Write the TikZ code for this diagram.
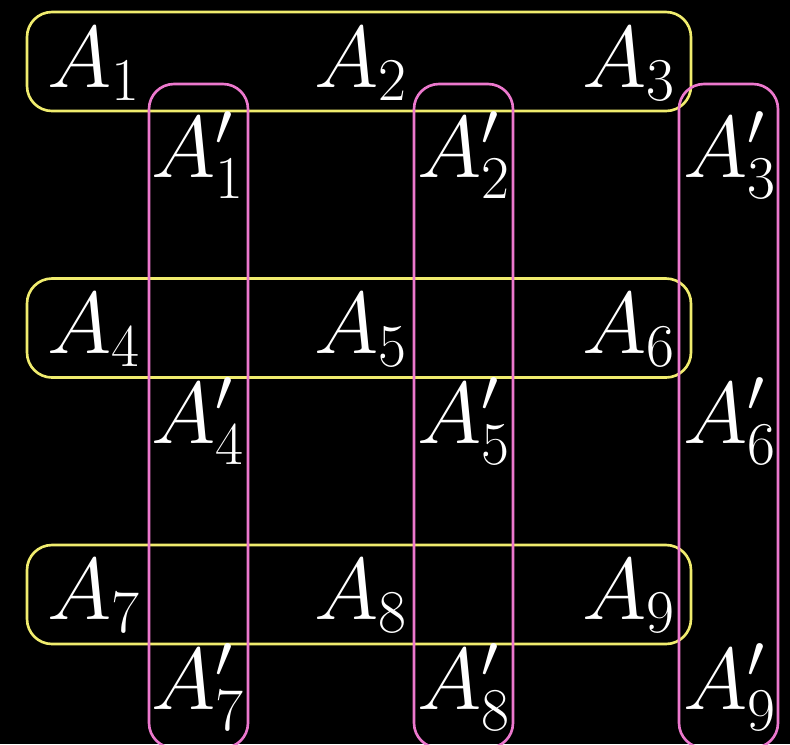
\documentclass[tikz,border=0pt]{standalone}
\usepackage{amsmath}
\usepackage{xcolor}
\definecolor{rowcol}{RGB}{240,236,110}
\definecolor{colcol}{RGB}{236,120,205}

\begin{document}
\begin{tikzpicture}[x=0.01cm,y=-0.01cm,
  every node/.style={text=white,inner sep=0pt,anchor=base,
    font=\fontsize{25.9}{31}\selectfont},
  rowbox/.style={draw=rowcol,line width=0.75pt,rounded corners=0.25cm},
  colbox/.style={draw=colcol,line width=0.75pt,rounded corners=0.25cm}]
% black page
\fill[black] (0,0) rectangle (790,744);
\useasboundingbox (0,0) rectangle (790,744);

% rows of A
\foreach \r in {0,1,2}
  \draw[rowbox] (27,{12+266.5*\r}) rectangle (691,{111+266.5*\r});

% columns of A'
\foreach \c in {0,1,2}
  \draw[colbox] ({149+265*\c},84) rectangle ({248+265*\c},748);

% labels
\foreach \r in {0,1,2}
  \foreach \c in {0,1,2} {
    \pgfmathtruncatemacro{\n}{3*\r+\c+1}
    \node (a\n) at ({94+267.5*\c},{87+266*\r}) {$A_{\n}$};
    \node (b\n) at ({198+266*\c},{177+266*\r}) {$A'_{\n}$};
  }
\end{tikzpicture}
\end{document}
